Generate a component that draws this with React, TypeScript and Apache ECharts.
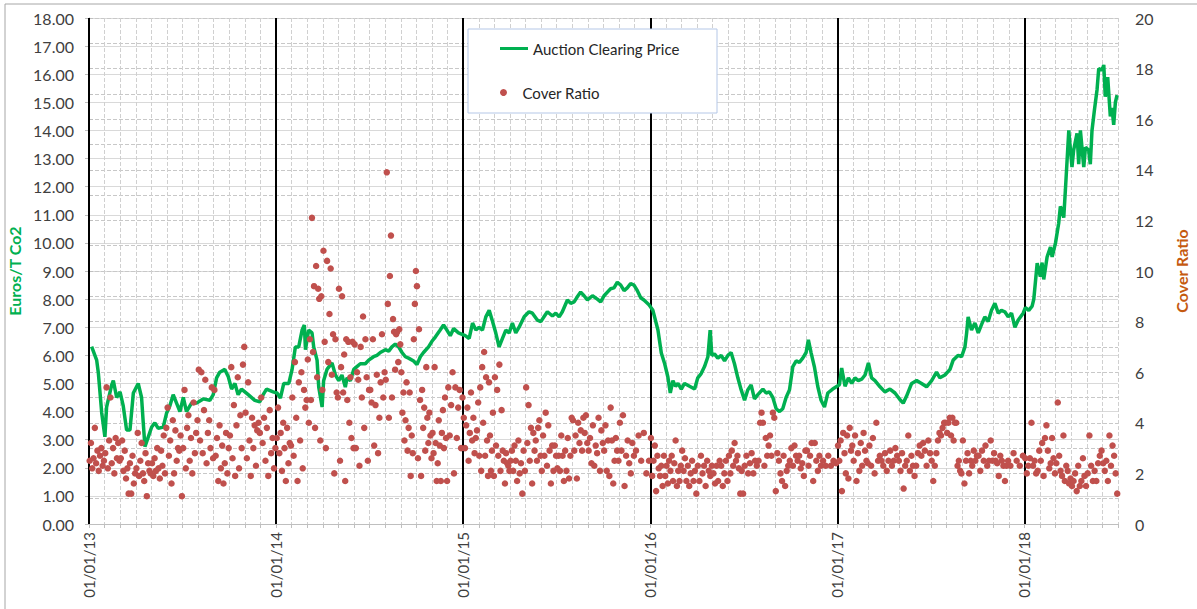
import React, { useEffect, useRef } from 'react';
import * as echarts from 'echarts';

// x axis: one label per year start
const yearLabels = ['01/01/13', '01/01/14', '01/01/15', '01/01/16', '01/01/17', '01/01/18'];

// Auction clearing price (EUR/t CO2): [fraction of year, price]
const price2013: [number, number][] = [[0.014,6.31],[0.041,5.83],[0.05,5.37],[0.068,3.95],[0.085,3.1],[0.094,4.16],[0.121,4.94],[0.13,5.1],[0.148,4.5],[0.166,4.7],[0.183,4.2],[0.201,3.34],[0.219,3.34],[0.237,4.66],[0.263,5.0],[0.281,4.5],[0.29,3.6],[0.299,2.75],[0.317,3.1],[0.335,3.45],[0.352,3.6],[0.37,3.4],[0.397,3.45],[0.415,3.95],[0.432,4.2],[0.45,4.6],[0.468,4.3],[0.486,4.0],[0.504,4.5],[0.521,4.0],[0.548,4.3],[0.575,4.3],[0.61,4.45],[0.646,4.4],[0.664,4.6],[0.682,5.2],[0.699,5.4],[0.726,5.5],[0.744,5.25],[0.762,4.8],[0.78,5.0],[0.797,4.6],[0.815,4.8],[0.851,4.6],[0.886,4.4],[0.913,4.35],[0.931,4.6],[0.949,4.8],[0.984,4.7]];
const price2014: [number, number][] = [[0.005,4.66],[0.023,4.48],[0.041,5.0],[0.068,5.0],[0.085,5.48],[0.103,6.3],[0.121,6.3],[0.139,6.9],[0.151,7.08],[0.157,6.2],[0.174,6.9],[0.192,6.8],[0.201,6.3],[0.219,5.83],[0.228,4.87],[0.246,4.16],[0.254,5.1],[0.272,5.5],[0.299,5.73],[0.317,5.3],[0.335,5.1],[0.352,5.3],[0.37,4.87],[0.379,5.2],[0.397,5.1],[0.415,5.5],[0.432,5.6],[0.45,5.7],[0.477,5.7],[0.495,5.83],[0.521,5.95],[0.539,6.0],[0.557,6.1],[0.584,6.2],[0.602,6.15],[0.619,6.3],[0.637,6.4],[0.655,6.3],[0.673,6.1],[0.691,5.95],[0.708,5.9],[0.735,5.8],[0.753,5.67],[0.771,5.95],[0.788,6.1],[0.815,6.3],[0.833,6.5],[0.851,6.65],[0.877,6.9],[0.895,7.08],[0.913,6.9],[0.931,6.7],[0.949,6.95],[0.975,6.8]];
const price2015: [number, number][] = [[0.011,6.7],[0.032,6.6],[0.05,7.15],[0.068,6.9],[0.085,7.0],[0.103,6.9],[0.121,7.37],[0.139,7.6],[0.157,7.2],[0.174,6.8],[0.192,6.3],[0.21,6.6],[0.228,6.9],[0.246,6.8],[0.263,7.15],[0.281,6.8],[0.299,7.0],[0.326,7.37],[0.352,7.55],[0.37,7.5],[0.397,7.25],[0.415,7.2],[0.432,7.37],[0.45,7.55],[0.477,7.4],[0.495,7.5],[0.513,7.37],[0.53,7.55],[0.557,7.97],[0.575,7.85],[0.593,7.9],[0.61,8.08],[0.628,8.25],[0.646,8.12],[0.664,7.97],[0.691,8.12],[0.717,8.0],[0.735,7.9],[0.753,8.12],[0.771,8.25],[0.788,8.37],[0.806,8.4],[0.824,8.6],[0.842,8.5],[0.86,8.3],[0.877,8.4],[0.895,8.55],[0.913,8.5],[0.931,8.3],[0.949,8.05],[0.966,7.97],[0.993,7.8]];
const price2016: [number, number][] = [[0.014,7.6],[0.041,6.9],[0.059,6.08],[0.077,5.7],[0.094,5.23],[0.107,4.66],[0.121,5.1],[0.135,4.9],[0.148,5.0],[0.166,4.8],[0.183,5.0],[0.21,4.9],[0.237,4.8],[0.254,5.2],[0.272,5.35],[0.29,5.6],[0.308,5.95],[0.32,6.9],[0.329,6.0],[0.343,6.05],[0.361,5.9],[0.379,6.0],[0.397,5.8],[0.415,6.0],[0.432,6.1],[0.45,5.7],[0.468,5.2],[0.486,4.77],[0.504,4.4],[0.521,4.77],[0.539,4.95],[0.557,4.45],[0.575,4.6],[0.602,4.8],[0.619,4.66],[0.637,4.7],[0.655,4.5],[0.673,4.1],[0.691,4.0],[0.708,4.1],[0.726,4.5],[0.744,4.77],[0.762,5.6],[0.78,5.8],[0.797,5.75],[0.815,5.9],[0.833,6.1],[0.845,6.55],[0.86,6.08],[0.877,5.6],[0.895,4.9],[0.913,4.4],[0.931,4.16],[0.949,4.66],[0.975,4.8]];
const price2017: [number, number][] = [[0.011,4.95],[0.023,5.55],[0.041,4.9],[0.059,5.2],[0.077,5.0],[0.094,5.2],[0.112,5.1],[0.13,5.15],[0.148,5.3],[0.166,5.73],[0.183,5.2],[0.201,5.1],[0.228,4.88],[0.254,4.7],[0.281,4.8],[0.308,4.66],[0.335,4.42],[0.352,4.3],[0.37,4.55],[0.397,5.0],[0.424,5.1],[0.45,5.0],[0.477,4.88],[0.504,5.1],[0.53,5.4],[0.548,5.2],[0.575,5.3],[0.602,5.5],[0.619,5.83],[0.646,6.0],[0.664,5.95],[0.682,6.3],[0.691,6.8],[0.699,7.37],[0.717,6.9],[0.735,7.15],[0.753,6.8],[0.771,7.1],[0.788,7.37],[0.806,7.2],[0.824,7.6],[0.842,7.85],[0.86,7.5],[0.877,7.6],[0.895,7.55],[0.913,7.37],[0.931,7.5],[0.949,7.0],[0.966,7.25],[0.993,7.5]];
const price2018: [number, number][] = [[0.005,7.7],[0.023,7.6],[0.041,7.75],[0.05,8.0],[0.068,9.28],[0.085,8.8],[0.094,9.3],[0.103,8.7],[0.121,9.5],[0.139,9.85],[0.148,9.5],[0.166,10.0],[0.183,10.7],[0.192,11.3],[0.21,10.9],[0.219,11.9],[0.237,14.0],[0.246,13.3],[0.254,12.7],[0.263,13.3],[0.281,13.9],[0.29,12.8],[0.299,14.0],[0.317,12.7],[0.326,13.4],[0.343,13.3],[0.352,12.8],[0.361,14.0],[0.374,14.73],[0.388,15.45],[0.397,16.2],[0.415,16.15],[0.424,16.33],[0.432,15.2],[0.445,15.9],[0.459,14.5],[0.468,14.8],[0.477,14.2],[0.486,15.0],[0.495,15.26]];

// Cover ratio: one list per month (auctions in that month, in order)
const cover2013: number[][] = [
  [2.5, 3.2, 2.2, 2.6, 3.8, 2.4, 2.9, 2.1, 2.7, 3.0, 2.3, 2.5],
  [2.8, 5.4, 2.2, 3.3, 5.0, 2.4, 3.0, 2.0, 3.4, 2.6, 3.2, 2.5],
  [2.6, 3.3, 2.1, 2.9, 1.8, 2.2, 1.2, 2.4, 1.2, 2.7, 1.6, 2.0],
  [2.2, 3.6, 1.9, 2.5, 3.2, 2.0, 1.7, 2.8, 1.1, 2.4, 2.1, 2.0],
  [2.4, 1.9, 2.6, 2.1, 3.0, 2.2, 1.8, 2.9, 2.3, 3.5, 2.0, 3.8],
  [4.6, 2.7, 3.3, 1.6, 4.1, 2.0, 3.7, 2.5, 3.0, 2.9, 3.5, 1.1],
  [3.0, 5.3, 2.2, 3.8, 4.3, 2.5, 3.4, 2.0, 4.8, 2.8, 3.6, 4.1],
  [6.1, 3.3, 6.0, 2.8, 4.5, 5.7, 2.4, 3.6, 4.1, 3.0, 5.4, 2.6],
  [5.3, 2.7, 3.4, 1.7, 3.9, 2.2, 3.1, 1.6, 2.4, 3.6, 2.0, 3.0],
  [3.5, 6.2, 2.6, 4.7, 1.9, 3.9, 5.8, 2.2, 4.3, 3.0, 6.3, 7.0],
  [4.4, 2.6, 5.6, 3.3, 1.9, 4.2, 3.0, 3.9, 2.3, 3.7, 4.0, 3.6],
  [5.0, 3.2, 4.2, 2.5, 3.8, 1.9, 4.5, 2.8, 3.4, 2.2, 3.0],
];
const cover2014: number[][] = [
  [3.4, 4.6, 2.8, 3.6, 2.1, 4.0, 3.0, 1.7, 3.8, 2.4, 3.2, 3.1],
  [5.0, 2.7, 6.4, 4.2, 1.7, 5.6, 3.3, 6.0, 2.2, 5.3, 4.6, 4.9],
  [6.5, 4.0, 7.3, 4.9, 12.1, 6.8, 9.4, 3.8, 10.2, 5.8, 9.3, 8.9, 3.3, 9.0, 5.3],
  [10.8, 7.2, 3.0, 10.4, 6.4, 8.3, 10.1, 5.9, 7.5, 2.0, 7.3, 5.2, 5.0],
  [9.3, 2.5, 6.2, 9.0, 5.2, 6.7, 1.7, 7.3, 4.9, 7.2, 4.0, 5.8, 3.4, 7.2, 3.0],
  [7.1, 3.0, 6.0, 5.7, 2.3, 7.0, 5.0, 8.2, 3.8, 7.3, 5.8, 2.5, 5.3],
  [5.3, 4.8, 7.3, 3.1, 4.7, 5.9, 2.8, 4.2, 5.6, 7.5, 5.0, 6.0],
  [5.7, 13.9, 8.7, 4.2, 9.8, 11.4, 5.0, 8.1, 7.6, 6.1, 7.5, 7.6, 6.4, 7.7, 7.1],
  [6.0, 4.4, 5.2, 3.3, 4.1, 5.6, 2.9, 3.8, 5.2, 1.9, 3.5, 2.8, 7.3, 8.7, 10.0],
  [9.4, 2.6, 7.7, 4.9, 1.9, 5.3, 3.8, 4.6, 2.9, 6.2, 4.2, 3.2, 4.4, 3.5, 2.6],
  [3.6, 2.8, 6.2, 3.2, 1.7, 2.4, 4.1, 3.1, 1.7, 3.6, 4.5, 3.0, 5.0, 3.4, 1.7],
  [5.4, 3.5, 4.7, 6.0, 2.0, 5.4, 3.4, 4.6, 5.3, 3.0, 5.0],
];
const cover2015: number[][] = [
  [4.2, 3.0, 3.9, 4.6, 2.5, 3.6, 5.2, 3.3, 4.2, 2.8, 3.4, 3.7, 4.8],
  [2.7, 5.4, 2.1, 6.2, 4.0, 6.8, 2.7, 5.8, 3.3, 1.9, 5.6, 3.5, 2.1, 2.9, 4.4, 1.9],
  [5.8, 3.1, 5.3, 2.7, 6.3, 2.1, 4.5, 2.9, 2.5, 1.6, 2.8, 2.4, 2.3, 2.1],
  [2.5, 2.9, 2.1, 3.1, 2.5, 1.7, 3.3, 2.0, 2.4, 1.2, 2.9, 2.1],
  [5.4, 3.2, 4.7, 2.5, 3.8, 1.6, 3.6, 2.9, 3.3, 2.5, 3.8, 4.1, 2.7],
  [2.1, 3.5, 2.7, 4.4, 2.3, 3.9, 2.9, 1.6, 3.1, 2.1, 3.1, 2.7],
  [2.2, 2.7, 2.1, 3.5, 2.7, 1.7, 2.9, 2.1, 3.4, 1.8, 2.7, 4.2],
  [4.1, 2.9, 3.5, 1.8, 4.0, 3.2, 3.7, 2.9, 4.2, 3.6, 4.3, 3.2],
  [2.9, 3.4, 2.4, 3.9, 2.3, 3.1, 2.8, 4.2, 2.1, 3.7, 3.2],
  [2.9, 3.9, 2.1, 3.3, 1.9, 4.6, 3.3, 1.6, 2.5, 3.4, 2.9, 2.5],
  [4.0, 2.9, 4.3, 1.5, 2.7, 3.3, 2.4, 2.0, 3.2, 2.7],
  [2.9, 3.5, 2.5, 3.6, 2.0, 2.5],
];
const cover2016: number[][] = [
  [3.4, 1.9, 2.5, 3.1, 1.3, 2.7, 2.2, 1.9, 2.3, 1.5, 2.7, 1.9],
  [2.3, 1.6, 2.5, 2.1, 2.7, 1.7, 2.4, 3.3, 1.5, 2.1, 1.7, 2.3],
  [2.9, 2.1, 2.6, 1.7, 2.3, 1.5, 2.0, 2.5, 1.7, 2.1, 1.2],
  [2.3, 1.7, 2.7, 2.0, 2.3, 1.5, 2.5, 2.1, 1.9, 2.3],
  [2.0, 1.6, 2.3, 1.7, 2.5, 2.3, 1.5, 2.0, 2.5, 1.7],
  [2.7, 2.0, 2.9, 2.3, 3.2, 2.5, 2.7, 2.2, 1.2, 2.1, 1.2],
  [2.3, 2.7, 2.0, 2.4, 2.8, 2.0, 2.5, 2.3, 2.5],
  [4.0, 4.4, 4.0, 2.3, 3.4, 2.7, 3.1, 3.5, 2.7, 4.4, 4.2],
  [1.3, 2.8, 2.5, 2.0, 1.7, 2.7, 1.5, 2.1, 2.3, 2.5],
  [3.0, 2.3, 3.1, 2.7, 2.5, 2.7, 2.2, 2.4, 1.9, 2.9],
  [2.9, 2.3, 2.7, 3.2, 1.7, 3.2, 2.5, 2.1, 2.7, 2.3],
  [2.5, 2.3, 2.7, 2.3, 2.5, 2.4],
];
const cover2017: number[][] = [
  [3.1, 2.5, 3.3, 1.3, 3.6, 2.8, 2.0, 3.5, 1.8, 3.8, 2.9, 3.1],
  [2.5, 3.5, 1.7, 2.8, 2.1, 3.2, 2.3, 3.6, 2.9, 2.5, 2.4],
  [3.1, 2.3, 3.4, 2.0, 4.0, 2.5, 2.7, 2.5, 2.3],
  [2.8, 2.1, 2.5, 2.9, 2.3, 2.5, 3.0, 2.7, 2.5],
  [2.1, 2.8, 1.4, 2.3, 2.5, 3.5, 2.1, 2.7, 2.3, 1.9],
  [2.3, 2.8, 3.1, 2.7, 3.2, 2.9, 2.3, 3.3, 2.8],
  [2.5, 1.7, 2.3, 2.8, 3.3, 3.6, 3.5, 3.8, 4.0, 4.0],
  [3.6, 4.0, 4.2, 3.5, 4.2, 3.3, 4.0, 4.0, 2.3, 2.5, 2.1, 2.0],
  [3.3, 1.6, 2.5, 2.8, 2.0, 2.5, 2.3, 2.9, 2.5, 2.7],
  [2.7, 2.1, 2.9, 2.5, 3.1, 2.3, 2.5, 3.3, 2.5],
  [2.8, 2.5, 2.4, 1.9, 2.7, 2.5, 2.3, 1.7, 2.3, 2.5],
  [2.3, 2.8, 2.5, 2.3, 2.7],
];
const cover2018: number[][] = [
  [2.6, 2.0, 2.3, 2.6, 4.0, 2.3, 2.5, 2.0, 2.1, 2.9],
  [2.5, 3.2, 1.9, 3.4, 3.9, 2.9, 2.2, 2.4, 3.4, 2.6, 2.0],
  [2.4, 4.8, 2.7, 2.1, 1.9, 3.5, 1.7, 2.3, 2.1, 1.6, 1.8],
  [1.5, 1.7, 2.0, 1.3, 2.3, 1.5, 1.7, 2.6, 1.9, 1.5],
  [2.0, 3.5, 2.3, 1.7, 2.1, 1.7, 2.4, 2.7, 2.9],
  [2.4, 2.1, 2.5, 1.7, 3.5, 2.3, 3.1, 2.7, 2.0, 1.2],
];

const priceByYear = [price2013, price2014, price2015, price2016, price2017, price2018];
const coverByYear = [cover2013, cover2014, cover2015, cover2016, cover2017, cover2018];

const GREEN = '#00b050';
const RED = '#c0504d';
const FONT = 'Lato, "Liberation Sans", sans-serif';

export default function App() {
  const ref = useRef<HTMLDivElement>(null);
  useEffect(() => {
    if (!ref.current) return;
    const chart = echarts.init(ref.current, null, { renderer: 'svg' });

    // x unit: months since 01/01/13
    const priceData = priceByYear.flatMap((arr, yi) => arr.map(([f, v]) => [(yi + f) * 12, v]));
    const coverData: number[][] = [];
    coverByYear.forEach((months, yi) =>
      months.forEach((vals, mi) =>
        vals.forEach((v, i) => coverData.push([yi * 12 + mi + (i + 0.5) / vals.length, v]))
      )
    );

    chart.setOption({
      animation: false,
      backgroundColor: '#ffffff',
      textStyle: { fontFamily: FONT },
      grid: { left: 89, right: 79, top: 18, bottom: 85, containLabel: false, outerBoundsMode: 'none' },
      xAxis: [
        {
          type: 'value', min: 0, max: 66, interval: 12, position: 'bottom', z: 3,
          axisLine: { show: true, lineStyle: { color: '#bfbfbf', width: 1 } },
          axisTick: { show: false },
          axisLabel: {
            rotate: 90, margin: 8, color: '#404040', fontSize: 15, fontFamily: FONT,
            formatter: (v: number) => (v % 12 === 0 ? yearLabels[v / 12] : ''),
          },
          splitLine: { show: true, showMaxLine: false, lineStyle: { color: '#000000', width: 2 } },
        },
        {
          type: 'value', min: 0, max: 66, interval: 1, position: 'bottom',
          axisLine: { show: false },
          axisTick: { show: true, length: 4, lineStyle: { color: '#bfbfbf' } },
          axisLabel: { show: false },
          splitLine: { show: true, lineStyle: { color: '#d0d0d0', type: 'dashed', width: 1 } },
        },
      ],
      yAxis: [
        {
          type: 'value', min: 0, max: 18, interval: 1, position: 'left',
          name: 'Euros/T Co2', nameLocation: 'middle', nameGap: 63, nameRotate: 90,
          nameTextStyle: { color: GREEN, fontWeight: 'bold', fontSize: 16, fontFamily: FONT },
          axisLine: { show: true, lineStyle: { color: '#bfbfbf' } },
          axisTick: { show: true, length: 4, lineStyle: { color: '#bfbfbf' } },
          axisLabel: { color: '#404040', fontSize: 16, margin: 15, fontFamily: FONT, formatter: (v: number) => v.toFixed(2) },
          splitLine: { show: true, lineStyle: { color: '#d9d9d9', width: 1 } },
        },
        {
          type: 'value', min: 0, max: 20, interval: 1, position: 'right',
          name: 'Cover Ratio', nameLocation: 'middle', nameGap: 55, nameRotate: 90,
          nameTextStyle: { color: '#c55a11', fontWeight: 'bold', fontSize: 16, fontFamily: FONT },
          axisLine: { show: true, lineStyle: { color: '#d0d0d0' } },
          axisTick: { show: true, length: 4, lineStyle: { color: '#bfbfbf' } },
          axisLabel: { color: '#404040', fontSize: 16, margin: 17, fontFamily: FONT, formatter: (v: number) => (v % 2 === 0 ? String(v) : '') },
          splitLine: { show: true, lineStyle: { color: '#c8c8c8', type: 'dashed', width: 1 } },
        },
      ],
      legend: [
        {
          data: [{ name: 'Auction Clearing Price', icon: 'rect' }], left: 495, top: 36, itemWidth: 28, itemHeight: 3, z: 10,
          itemStyle: { color: GREEN },
          textStyle: { color: '#262626', fontSize: 15, fontFamily: FONT },
        },
        {
          data: [{ name: 'Cover Ratio', icon: 'circle' }], left: 495, top: 80, itemWidth: 28, itemHeight: 7, z: 10,
          textStyle: { color: '#262626', fontSize: 15, fontFamily: FONT },
        },
      ],
      graphic: [
        {
          type: 'rect', z: 1, silent: true,
          shape: { x: 5, y: 4, width: 1200, height: 620 },
          style: { fill: 'none', stroke: '#a6a6a6', lineWidth: 1 },
        },
        {
          type: 'rect', z: 4, silent: true,
          shape: { x: 468, y: 29, width: 249, height: 84 },
          style: { fill: '#ffffff', stroke: '#b4c7e7', lineWidth: 1 },
        },
      ],
      series: [
        {
          name: 'Auction Clearing Price', type: 'line', xAxisIndex: 0, yAxisIndex: 0, z: 5,
          data: priceData, showSymbol: false, symbol: 'none',
          lineStyle: { color: GREEN, width: 3.5 }, itemStyle: { color: GREEN },
        },
        {
          name: 'Cover Ratio', type: 'scatter', xAxisIndex: 0, yAxisIndex: 1, z: 6,
          data: coverData, symbol: 'circle', symbolSize: 6.5,
          itemStyle: { color: RED, opacity: 1 },
        },
      ],
    });
    return () => chart.dispose();
  }, []);
  return <div ref={ref} style={{ position: 'absolute', left: 0, top: 0, width: 1197, height: 609 }} />;
}
